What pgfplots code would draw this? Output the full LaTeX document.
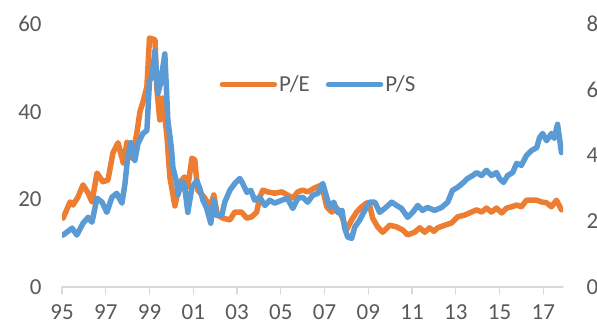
\documentclass[border=0pt]{standalone}
\usepackage{fontspec}
\setmainfont{Carlito}
\usepackage{pgfplots}
\pgfplotsset{compat=1.18}
\usepackage{pgfplotstable}
\definecolor{peorange}{HTML}{ED7D31}
\definecolor{psblue}{HTML}{5B9BD5}
\definecolor{labgrey}{HTML}{595959}
\definecolor{axgrey}{HTML}{D9D9D9}

\pgfplotstableread{
year pe
1995.05 15.7
1995.37 19.4
1995.5 18.7
1995.73 20.5
1995.96 23.3
1996.2 21.4
1996.37 19.4
1996.6 26
1996.87 24
1997.1 24.4
1997.33 30.6
1997.56 32.9
1997.8 28.3
1997.97 33
1998.2 29.4
1998.42 35.1
1998.56 39.9
1998.7 42.2
1998.88 45.6
1999.0 56.8
1999.25 56.4
1999.33 45.6
1999.47 38.1
1999.6 43.1
1999.8 34.2
1999.93 25.1
2000.16 18.5
2000.4 24
2000.6 25.1
2000.75 22.8
2000.94 29.4
2001.07 29
2001.2 22.1
2001.5 20.5
2001.76 18.3
2001.94 21
2002.1 16.4
2002.36 15.7
2002.67 15.3
2002.9 17.1
2003.2 17.1
2003.45 15.7
2003.67 16
2003.9 17.1
2004.04 20.5
2004.18 22.1
2004.4 21.7
2004.72 21.4
2005.05 21.7
2005.3 21
2005.55 20.3
2005.78 21.7
2006.0 22.1
2006.23 21.7
2006.55 22.6
2006.87 23.3
2007.1 18.3
2007.33 17.1
2007.56 18
2007.8 16
2008.0 13
2008.24 15.3
2008.47 17.1
2008.7 18.3
2008.93 19.2
2009.06 18.7
2009.2 15.7
2009.43 13.7
2009.66 12.5
2009.98 14.1
2010.3 13.7
2010.57 13
2010.8 11.9
2011.12 12.5
2011.35 13.5
2011.58 12.5
2011.8 13.5
2012.0 12.7
2012.17 13.5
2012.5 14.1
2012.8 14.6
2013.08 16
2013.4 16.4
2013.72 17.1
2013.95 17.6
2014.18 17.1
2014.4 18
2014.63 17.1
2014.86 18
2015.1 16.9
2015.32 18
2015.55 18.3
2015.78 18.7
2016.0 18.3
2016.23 19.8
2016.46 19.8
2016.7 19.8
2016.92 19.4
2017.15 19.2
2017.37 18.3
2017.6 19.8
2017.83 17.6
}\petable

\pgfplotstableread{
year ps
1995.05 1.58
1995.46 1.79
1995.68 1.58
1995.96 1.94
1996.2 2.12
1996.37 1.97
1996.6 2.70
1996.83 2.58
1997.05 2.27
1997.28 2.73
1997.5 2.85
1997.74 2.55
1997.88 3.15
1998.0 3.94
1998.15 4.39
1998.33 3.85
1998.47 4.36
1998.7 4.67
1998.88 4.76
1999.0 6.27
1999.1 6.36
1999.25 7.18
1999.38 5.88
1999.5 6.18
1999.7 7.09
1999.84 5.06
2000.0 4.24
2000.07 3.64
2000.25 3.15
2000.3 2.80
2000.48 3.20
2000.6 3.10
2000.75 2.27
2000.94 3.03
2001.16 3.24
2001.3 3.0
2001.44 2.64
2001.6 2.42
2001.8 1.94
2001.94 2.64
2002.07 2.18
2002.3 2.18
2002.44 2.58
2002.67 2.94
2002.9 3.15
2003.13 3.30
2003.26 3.15
2003.45 2.88
2003.63 2.94
2003.81 2.64
2004.04 2.73
2004.27 2.48
2004.5 2.64
2004.72 2.55
2005.05 2.64
2005.3 2.70
2005.55 2.39
2005.78 2.70
2006.0 2.73
2006.23 2.58
2006.46 2.79
2006.7 2.85
2006.92 3.15
2007.1 2.73
2007.24 2.42
2007.42 2.58
2007.6 2.27
2007.8 2.33
2007.92 1.79
2008.06 1.52
2008.24 1.48
2008.38 1.82
2008.6 2.03
2008.84 2.33
2009.06 2.58
2009.3 2.58
2009.52 2.27
2009.75 2.39
2010.07 2.58
2010.3 2.48
2010.52 2.39
2010.8 2.12
2011.03 2.27
2011.26 2.48
2011.48 2.33
2011.7 2.42
2012.03 2.33
2012.35 2.42
2012.63 2.58
2012.85 2.94
2013.08 3.03
2013.3 3.15
2013.54 3.30
2013.77 3.39
2013.95 3.48
2014.18 3.39
2014.4 3.55
2014.63 3.39
2014.86 3.48
2015.0 3.30
2015.18 3.18
2015.37 3.39
2015.6 3.48
2015.78 3.76
2016.0 3.70
2016.23 4.0
2016.46 4.15
2016.7 4.24
2016.83 4.55
2016.97 4.67
2017.15 4.45
2017.37 4.67
2017.5 4.52
2017.65 4.95
2017.83 4.09
}\pstable

\begin{document}
\begin{tikzpicture}
\pgfplotsset{
  every axis/.append style={
    scale only axis, width=501bp, height=263bp,
    at={(0,0)}, anchor=south west,
    xmin=1995, xmax=2017.9,
    /pgf/number format/assume math mode=true,
    tick label style={font=\fontsize{23}{27}\selectfont, text=labgrey},
    line join=round, line cap=round,
  }
}
\begin{axis}[
  ymin=0, ymax=60, ytick={0,20,40,60},
  axis y line*=left, axis x line*=bottom,
  y axis line style={draw=none},
  x axis line style={draw=axgrey, line width=1.2pt},
  xtick={1995,1997,...,2017},
  xticklabels={95,97,99,01,03,05,07,09,11,13,15,17},
  x tick style={draw=axgrey, line width=1.2pt},
  xtick align=outside, major tick length=7bp,
  ytick style={draw=none},
  yticklabel style={xshift=-17bp},
  xticklabel style={yshift=-7bp},
]
\addplot[peorange, line width=5.5bp, line join=round] table[x=year, y=pe] {\petable};
\end{axis}
\begin{axis}[
  ymin=0, ymax=8, ytick={0,2,4,6,8},
  axis y line*=right, axis x line=none,
  y axis line style={draw=none},
  ytick style={draw=none},
  yticklabel style={xshift=20bp},
  legend columns=2,
  legend style={draw=none, fill=none, at={(0.512,0.77)}, anchor=center,
    font=\fontsize{23}{27}\selectfont, text=labgrey,
    /tikz/every even column/.append style={column sep=14bp}},
  legend image code/.code={\draw[#1, line width=5.5bp, line cap=round] (0bp,0bp) -- (52bp,0bp);},
]
\addlegendimage{peorange}
\addlegendentry{P/E}
\addplot[psblue, line width=5.5bp, line join=round] table[x=year, y=ps] {\pstable};
\addlegendentry{P/S}
\end{axis}
\pgfresetboundingbox
\useasboundingbox (-62bp,-40bp) rectangle (535bp,287bp);
\end{tikzpicture}
\end{document}
